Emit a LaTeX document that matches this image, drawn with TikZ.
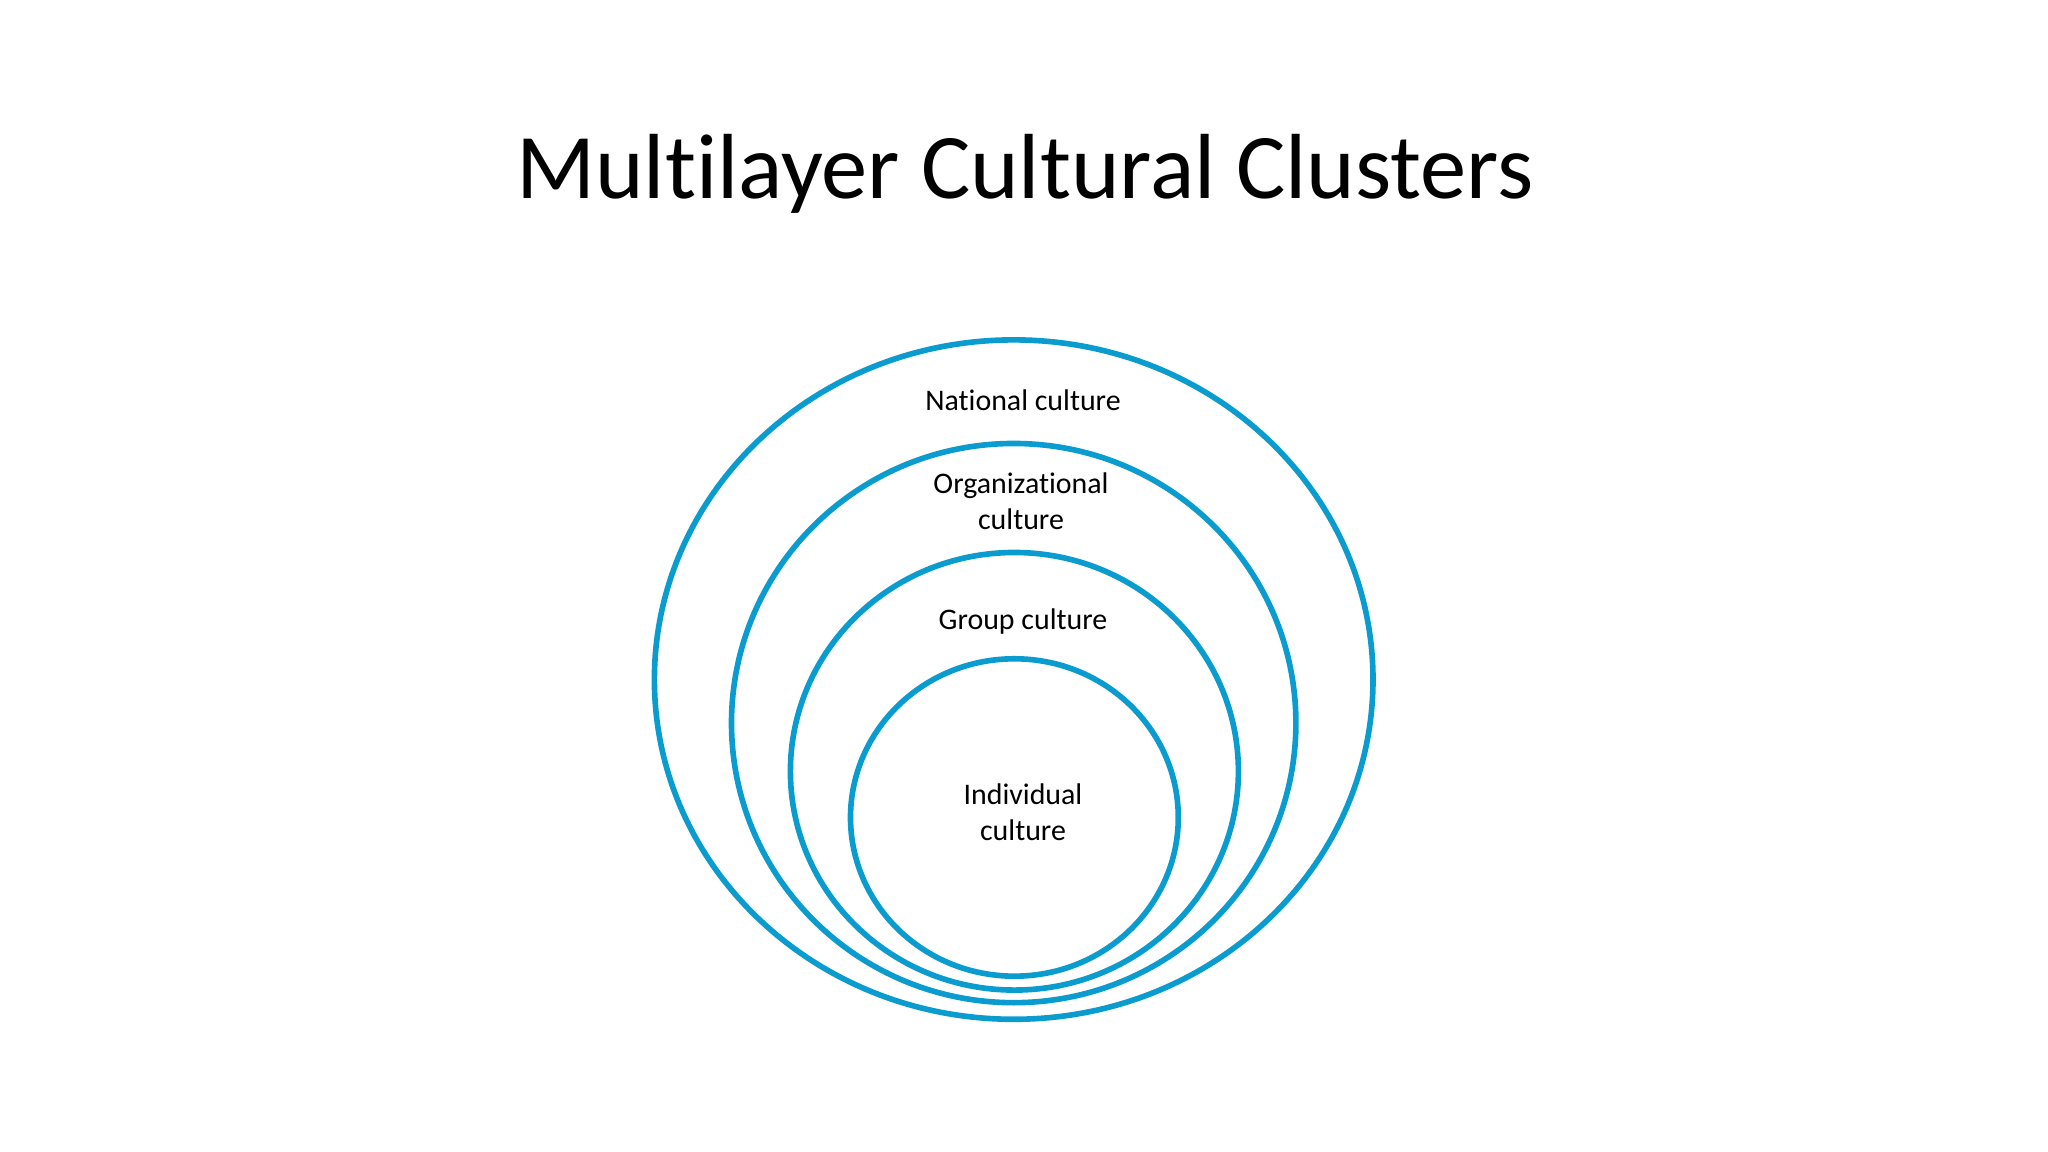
\documentclass[tikz,border=0pt]{standalone}
\usepackage{fontspec}
\setmainfont{Carlito}[Ligatures={NoCommon}]
\definecolor{ring}{HTML}{0A9BCF}
\begin{document}
\begin{tikzpicture}[x=0.01cm,y=0.01cm,
  ring/.style={draw=ring,line width=1.6pt},
  lab/.style={font=\fontsize{8.5}{10.3}\selectfont,align=center,inner sep=0pt}]
\useasboundingbox (0,0) rectangle (2048,1152);
\node[font=\fontsize{26.3}{32}\selectfont,inner sep=0pt] (title) at (1025,978.5) {Multilayer Cultural Clusters};
\draw[ring] (1013.7,472.4) ellipse [x radius=359.3,y radius=339.7];
\draw[ring] (1013.7,428.9) ellipse [x radius=282.2,y radius=279.6];
\draw[ring] (1014.4,380.7) ellipse [x radius=224.0,y radius=218.8];
\draw[ring] (1014.4,334.5) ellipse [x radius=163.9,y radius=158.7];
\node[lab] (nat) at (1023,752) {National culture};
\node[lab] (org) at (1021,651) {Organizational\\culture};
\node[lab] (grp) at (1023,530) {Group culture};
\node[lab] (ind) at (1023,340) {Individual\\culture};
\end{tikzpicture}
\end{document}
